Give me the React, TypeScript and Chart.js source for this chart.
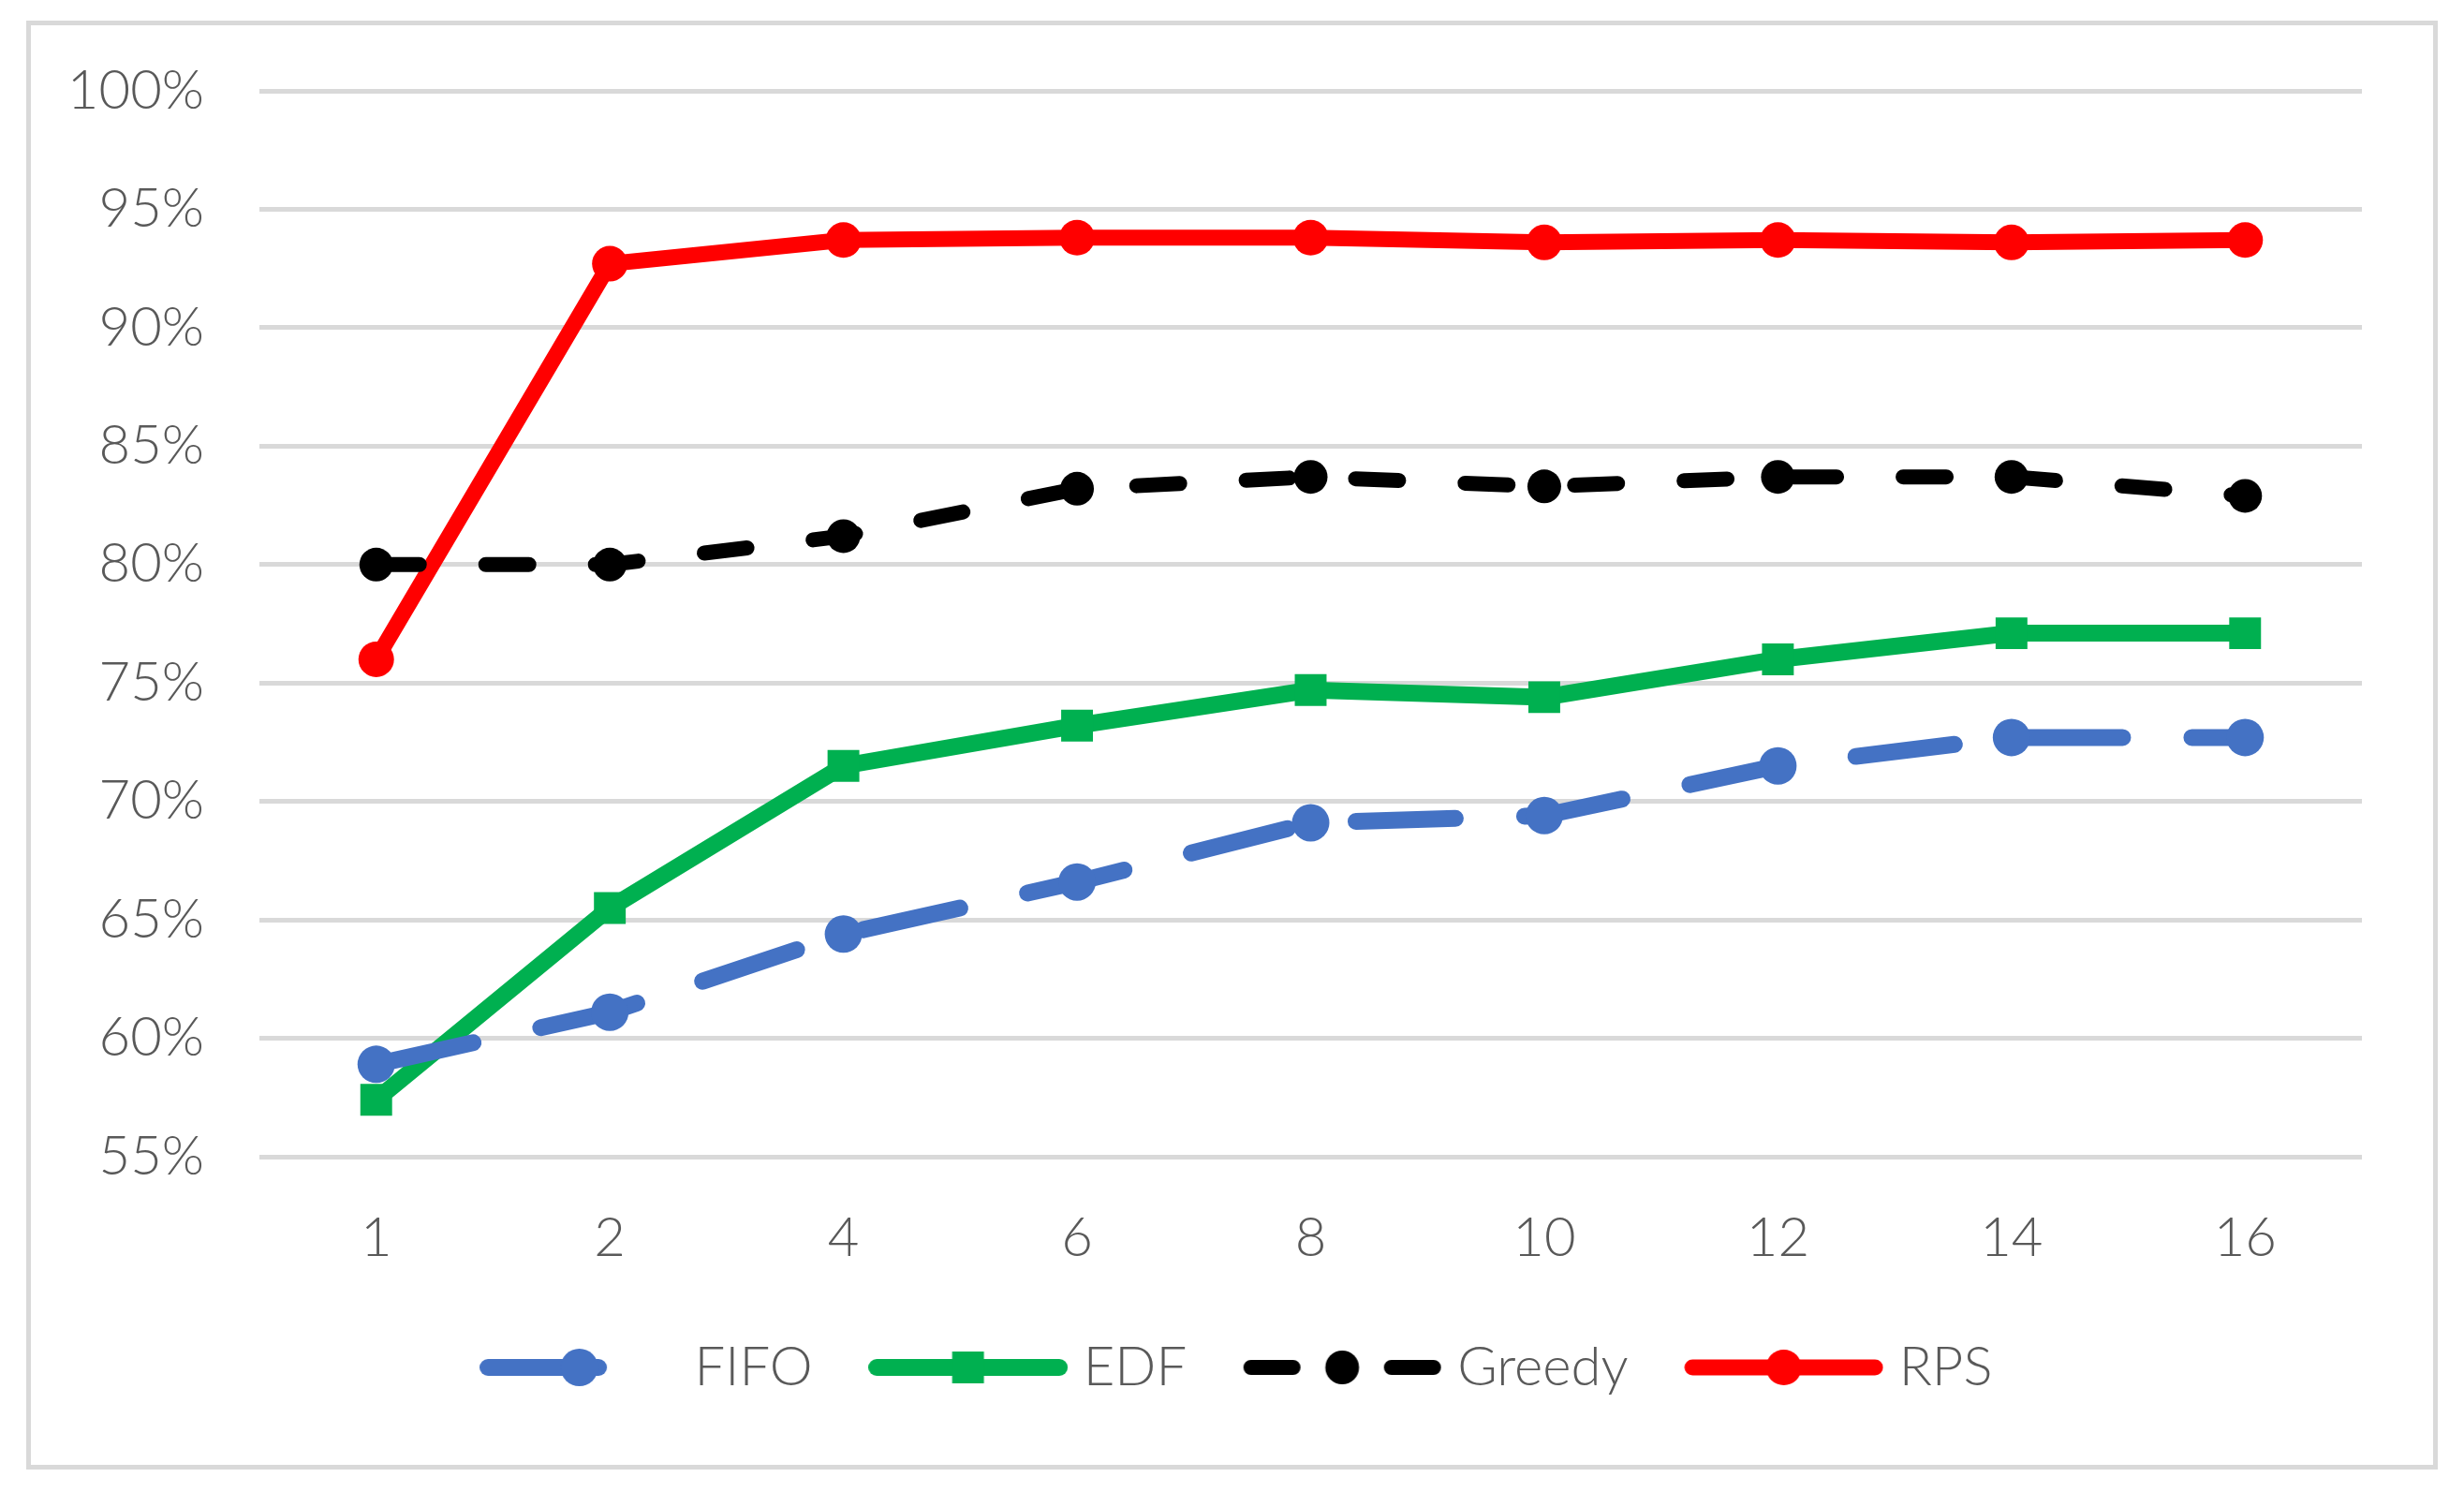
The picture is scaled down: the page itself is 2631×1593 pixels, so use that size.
import { useEffect, useRef } from 'react'
import { Chart, registerables } from 'chart.js'

Chart.register(...registerables)

// dados
const categories = ['1', '2', '4', '6', '8', '10', '12', '14', '16']
const fifo = [58.9, 61.1, 64.4, 66.6, 69.1, 69.4, 71.5, 72.7, 72.7]
const edf = [57.4, 65.5, 71.5, 73.2, 74.7, 74.4, 76.0, 77.1, 77.1]
const greedy = [80.0, 80.0, 81.2, 83.2, 83.7, 83.3, 83.7, 83.7, 82.9]
const rps = [76.0, 92.7, 93.7, 93.8, 93.8, 93.6, 93.7, 93.6, 93.7]
const yTicks = [55, 60, 65, 70, 75, 80, 85, 90, 95, 100]

const FONT = "Lato, 'Open Sans', sans-serif"
const TEXT = '#595959'
const GRID = '#d9d9d9'

interface SeriesStyle {
  label: string
  data: number[]
  color: string
  dash: number[]
  iconDash: number[]
  marker: 'circle' | 'rect'
  radius: number
  width: number
}

const series: SeriesStyle[] = [
  { label: 'FIFO', data: fifo, color: '#4472C4', dash: [106, 74], iconDash: [118, 200], marker: 'circle', radius: 20, width: 18 },
  { label: 'EDF', data: edf, color: '#00B050', dash: [], iconDash: [], marker: 'rect', radius: 24, width: 18 },
  { label: 'Greedy', data: greedy, color: '#000000', dash: [46, 71], iconDash: [45, 105], marker: 'circle', radius: 18, width: 16 },
  { label: 'RPS', data: rps, color: '#FF0000', dash: [], iconDash: [], marker: 'circle', radius: 19, width: 17 },
]

const ICON_W = 213
const BOX_W = 188
const LEGEND_SHIFT = 65

// ícone da legenda: linha + marcador
function makeIcon(s: SeriesStyle) {
  const c = document.createElement('canvas')
  c.width = ICON_W
  c.height = 56
  const ctx = c.getContext('2d')!
  const mid = ICON_W / 2
  ctx.strokeStyle = s.color
  ctx.fillStyle = s.color
  ctx.lineWidth = s.width
  ctx.lineCap = 'round'
  ctx.setLineDash(s.iconDash)
  ctx.beginPath()
  ctx.moveTo(9, 28)
  ctx.lineTo(ICON_W - 9, 28)
  ctx.stroke()
  ctx.setLineDash([])
  if (s.marker === 'rect') {
    const h = s.radius * Math.SQRT1_2
    ctx.fillRect(mid - h, 28 - h, 2 * h, 2 * h)
  } else {
    ctx.beginPath()
    ctx.arc(mid, 28, s.radius, 0, Math.PI * 2)
    ctx.fill()
  }
  return c
}

// desloca a legenda para a direita (centrada como no original)
const shiftLegend = {
  id: 'shiftLegend',
  afterLayout(chart: any) {
    if (chart.legend) {
      chart.legend.left += LEGEND_SHIFT
      chart.legend.right += LEGEND_SHIFT
    }
  },
}

function LineChart() {
  const chartRef = useRef<HTMLCanvasElement>(null)
  const chartInstance = useRef<Chart | null>(null)

  useEffect(() => {
    if (!chartRef.current) return
    if (chartInstance.current) chartInstance.current.destroy()

    const icons = series.map(makeIcon)
    const ctx = chartRef.current.getContext('2d')
    if (!ctx) return

    chartInstance.current = new Chart(ctx, {
      type: 'line',
      data: {
        labels: categories,
        datasets: series.map((s) => ({
          label: s.label,
          data: s.data,
          borderColor: s.color,
          backgroundColor: s.color,
          borderWidth: s.width,
          borderDash: s.dash,
          borderCapStyle: 'round' as const,
          pointStyle: s.marker,
          pointRadius: s.radius,
          pointBorderWidth: 0,
          pointBackgroundColor: s.color,
          tension: 0,
        })),
      },
      plugins: [shiftLegend],
      options: {
        responsive: true,
        maintainAspectRatio: false,
        animation: false,
        layout: { padding: { top: 97, right: 109, bottom: 94, left: 0 } },
        plugins: {
          legend: {
            position: 'bottom' as const,
            labels: {
              usePointStyle: true,
              pointStyleWidth: BOX_W,
              padding: 72,
              color: TEXT,
              font: { family: FONT, size: 58, weight: 300 },
              generateLabels: (chart: any) =>
                series.map((s, i) => ({
                  text: s.label,
                  pointStyle: icons[i],
                  fillStyle: s.color,
                  strokeStyle: s.color,
                  lineWidth: 0,
                  hidden: !chart.isDatasetVisible(i),
                  datasetIndex: i,
                  fontColor: TEXT,
                })),
            },
          },
          tooltip: { enabled: false },
        },
        scales: {
          x: {
            offset: true,
            afterFit: (scale: any) => {
              scale.height = 124
            },
            grid: { display: false },
            border: { display: false },
            ticks: {
              color: TEXT,
              padding: 44,
              font: { family: FONT, size: 58, weight: 300 },
            },
          },
          y: {
            min: yTicks[0],
            max: yTicks[yTicks.length - 1],
            afterFit: (scale: any) => {
              scale.width = 277
            },
            grid: { color: GRID, lineWidth: 5, drawTicks: false },
            border: { display: false },
            ticks: {
              stepSize: 5,
              color: TEXT,
              padding: 59,
              font: { family: FONT, size: 58, weight: 300 },
              callback: (v: any) => v + '%',
            },
          },
        },
      },
    })

    return () => {
      if (chartInstance.current) {
        chartInstance.current.destroy()
        chartInstance.current = null
      }
    }
  }, [])

  return <canvas ref={chartRef} />
}

export default function App() {
  useEffect(() => {
    document.body.style.margin = '0'
    document.body.style.overflow = 'hidden'
  }, [])

  return (
    <div style={{ position: 'relative', width: 2631, height: 1593, background: '#fff' }}>
      <div style={{ position: 'absolute', inset: 0 }}>
        <LineChart />
      </div>
      <div
        style={{
          position: 'absolute',
          left: 28,
          top: 22,
          width: 2575,
          height: 1547,
          border: '5px solid ' + GRID,
          boxSizing: 'border-box',
          pointerEvents: 'none',
        }}
      />
    </div>
  )
}
